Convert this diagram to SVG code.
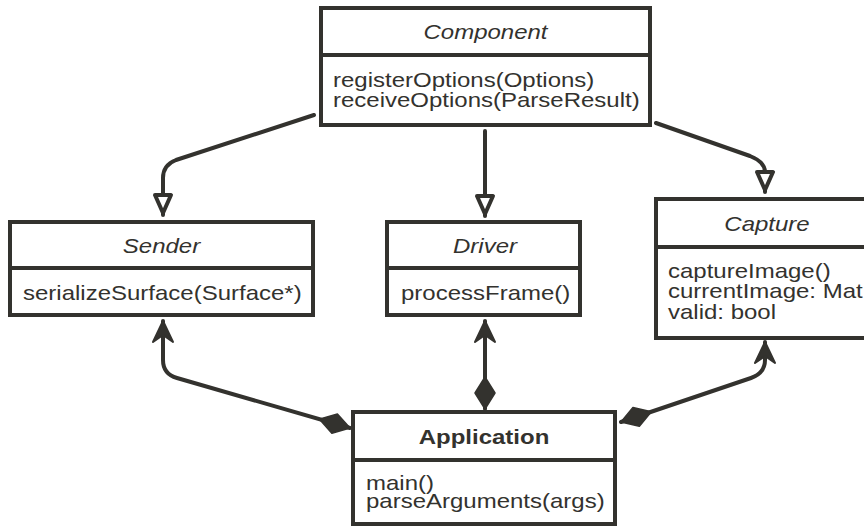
<svg xmlns="http://www.w3.org/2000/svg" width="864" height="526" viewBox="0 0 864 526">
  <style>
    .box { fill: #ffffff; stroke: #33322E; stroke-width: 4; }
    .div { stroke: #33322E; stroke-width: 4; }
    .title { font-family: "Liberation Sans", Arial, sans-serif; font-size: 24px; font-style: italic; fill: #33322E; text-anchor: middle; }
    .title-b { font-family: "Liberation Sans", Arial, sans-serif; font-size: 24px; font-weight: bold; fill: #33322E; text-anchor: middle; }
    .body { font-family: "Liberation Sans", Arial, sans-serif; font-size: 24px; fill: #33322E; }
    .edge { fill: none; stroke: #33322E; stroke-width: 4; stroke-linejoin: round; stroke-linecap: round; }
  </style>
  <defs>
    <!-- hollow triangle: generalization -->
    <marker id="gen" markerUnits="userSpaceOnUse" markerWidth="40" markerHeight="40" viewBox="-30 -20 40 40" refX="0" refY="0" orient="auto" overflow="visible">
      <path d="M-2,0 L-20,-8 L-20,8 Z" fill="#ffffff" stroke="#33322E" stroke-width="4" stroke-linejoin="round"/>
    </marker>
    <!-- navigable end: solid arrowhead -->
    <marker id="nav" markerUnits="userSpaceOnUse" markerWidth="40" markerHeight="40" viewBox="-30 -20 40 40" refX="0" refY="0" orient="auto" overflow="visible">
      <path d="M0,0 L-21,-10 L-14,0 L-21,10 Z" fill="#33322E" stroke="#33322E" stroke-width="2" stroke-linejoin="round"/>
    </marker>
    <!-- filled diamond: composition -->
    <marker id="comp" markerUnits="userSpaceOnUse" markerWidth="40" markerHeight="40" viewBox="-5 -20 40 40" refX="0" refY="0" orient="auto" overflow="visible">
      <path d="M0,0 L16,-10 L32,0 L16,10 Z" fill="#33322E" stroke="#33322E" stroke-width="1.5" stroke-linejoin="round"/>
    </marker>
  </defs>

  <g id="connectors">
    <!-- Component generalizations -->
    <path class="edge" marker-end="url(#gen)" d="M314,115 L176,160 Q163,165 163,178 L163,215"/>
    <path class="edge" marker-end="url(#gen)" d="M485,131 L485,216"/>
    <path class="edge" marker-end="url(#gen)" d="M656,123 L750,156 Q765,162 765,172 L765,192"/>
    <!-- Application compositions -->
    <path class="edge" marker-start="url(#comp)" marker-end="url(#nav)" d="M350,428 L177,378 Q163,374 163,360 L163,321"/>
    <path class="edge" marker-start="url(#comp)" marker-end="url(#nav)" d="M485,409 L485,321"/>
    <path class="edge" marker-start="url(#comp)" marker-end="url(#nav)" d="M621,422 L751,378 Q765,373 765,360 L765,342"/>
  </g>

  <g id="component">
    <rect class="box" x="321" y="8" width="329" height="117"/>
    <line class="div" x1="321" y1="55" x2="650" y2="55"/>
    <text class="title" transform="translate(485.5 39) scale(1 0.85)">Component</text>
    <text class="body" transform="translate(333 87) scale(1 0.85)"><tspan x="0" y="0">registerOptions(Options)</tspan><tspan x="0" y="23">receiveOptions(ParseResult)</tspan></text>
  </g>

  <g id="sender">
    <rect class="box" x="10" y="222" width="303" height="93"/>
    <line class="div" x1="10" y1="268" x2="313" y2="268"/>
    <text class="title" transform="translate(161.5 253) scale(1 0.85)">Sender</text>
    <text class="body" transform="translate(23 300) scale(1 0.85)">serializeSurface(Surface*)</text>
  </g>

  <g id="driver">
    <rect class="box" x="387" y="222" width="193" height="93"/>
    <line class="div" x1="387" y1="268" x2="580" y2="268"/>
    <text class="title" transform="translate(485 253) scale(1 0.85)">Driver</text>
    <text class="body" transform="translate(401 300) scale(1 0.85)">processFrame()</text>
  </g>

  <g id="capture">
    <rect class="box" x="656" y="199" width="222" height="139"/>
    <line class="div" x1="656" y1="247" x2="878" y2="247"/>
    <text class="title" transform="translate(767 231) scale(1 0.85)">Capture</text>
    <text class="body" transform="translate(668 278) scale(1 0.85)"><tspan x="0" y="0">captureImage()</tspan><tspan x="0" y="24">currentImage: Mat</tspan><tspan x="0" y="48">valid: bool</tspan></text>
  </g>

  <g id="application">
    <rect class="box" x="353" y="412" width="262" height="112"/>
    <line class="div" x1="353" y1="460" x2="615" y2="460"/>
    <text class="title-b" transform="translate(484 444) scale(1 0.85)">Application</text>
    <text class="body" transform="translate(366 490) scale(1 0.85)"><tspan x="0" y="0">main()</tspan><tspan x="0" y="21">parseArguments(args)</tspan></text>
  </g>
</svg>
